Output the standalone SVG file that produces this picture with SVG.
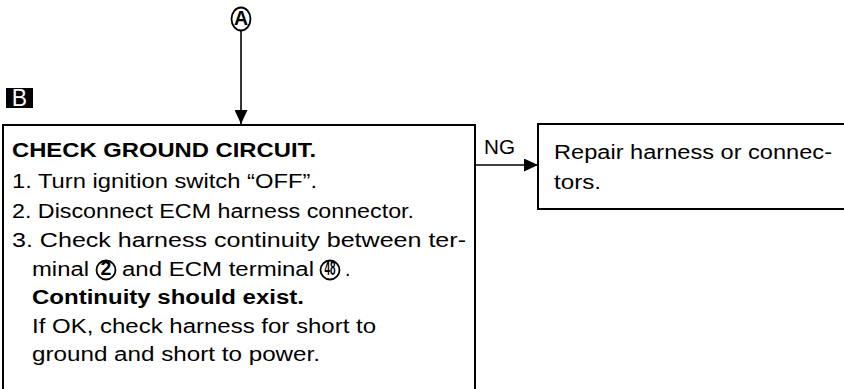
<svg xmlns="http://www.w3.org/2000/svg" width="844" height="389" viewBox="0 0 844 389">
<style>
  .t { font-family: "Liberation Sans", Arial, Helvetica, sans-serif; font-size: 19.5px; fill: #000; }
  .b { font-weight: bold; }
  .box { fill: #fff; stroke: #000; stroke-width: 2; }
  .conn { fill: none; stroke: #000; stroke-width: 1.6; }
  .circ { fill: #fff; stroke: #000; stroke-width: 1.8; }
</style>
<defs>
  <marker id="arr" viewBox="0 0 14 13" refX="14" refY="6.5" markerWidth="14" markerHeight="13" markerUnits="userSpaceOnUse" orient="auto">
    <path d="M0,0 L14,6.5 L0,13 Z" fill="#000"/>
  </marker>
</defs>
<rect width="844" height="389" fill="#fff"/>

<g id="node-A">
  <ellipse class="circ" cx="241" cy="19" rx="9.5" ry="11.5"/>
  <text class="t b" x="241" y="25" font-size="16" text-anchor="middle">A</text>
</g>

<g id="label-B">
  <rect x="6" y="88" width="27" height="20" fill="#000"/>
  <text x="19.5" y="106" font-family="Liberation Sans, Arial, sans-serif" font-size="23" text-anchor="middle" fill="#fff">B</text>
</g>

<g id="connectors">
  <line class="conn" x1="241" y1="31" x2="241" y2="124" marker-end="url(#arr)"/>
  <line class="conn" x1="476" y1="165" x2="538" y2="165" marker-end="url(#arr)"/>
  <text class="t" x="484" y="154" font-size="20" textLength="31" lengthAdjust="spacingAndGlyphs">NG</text>
</g>

<g id="node-check">
  <rect class="box" x="3" y="125" width="472" height="290"/>
  <text class="t b" x="12" y="157" textLength="304" lengthAdjust="spacingAndGlyphs">CHECK GROUND CIRCUIT.</text>
  <text class="t" x="12" y="187.5" textLength="305" lengthAdjust="spacingAndGlyphs">1. Turn ignition switch “OFF”.</text>
  <text class="t" x="12" y="217.5" textLength="402" lengthAdjust="spacingAndGlyphs">2. Disconnect ECM harness connector.</text>
  <text class="t" x="12" y="247" textLength="454" lengthAdjust="spacingAndGlyphs">3. Check harness continuity between ter-</text>
  <text class="t" x="32" y="275.5" textLength="57" lengthAdjust="spacingAndGlyphs">minal</text>
  <circle class="circ" cx="106" cy="270" r="9.5"/>
  <text class="t b" x="106" y="275" font-size="14" text-anchor="middle">2</text>
  <text class="t" x="122" y="275.5" textLength="192" lengthAdjust="spacingAndGlyphs">and ECM terminal</text>
  <circle class="circ" cx="330" cy="270" r="9.5"/>
  <text class="t b" x="324.5" y="274.5" font-size="11" textLength="11" lengthAdjust="spacingAndGlyphs">48</text>
  <text class="t" x="345" y="275.5">.</text>
  <text class="t b" x="32" y="304" textLength="272" lengthAdjust="spacingAndGlyphs">Continuity should exist.</text>
  <text class="t" x="32" y="332.5" textLength="344" lengthAdjust="spacingAndGlyphs">If OK, check harness for short to</text>
  <text class="t" x="32" y="361" textLength="288" lengthAdjust="spacingAndGlyphs">ground and short to power.</text>
</g>

<g id="node-repair">
  <rect class="box" x="538" y="124" width="320" height="85"/>
  <text class="t" x="554" y="159" textLength="278" lengthAdjust="spacingAndGlyphs">Repair harness or connec-</text>
  <text class="t" x="554" y="188.5" textLength="47" lengthAdjust="spacingAndGlyphs">tors.</text>
</g>
</svg>
